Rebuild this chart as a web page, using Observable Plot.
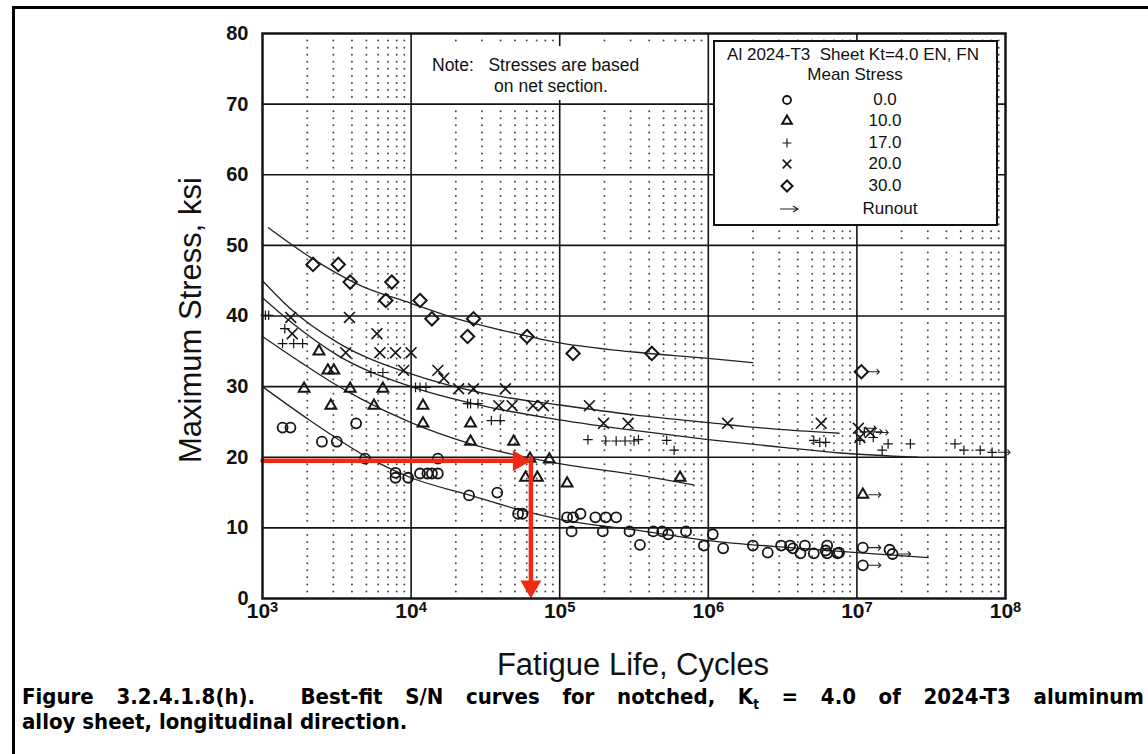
<!DOCTYPE html>
<html><head><meta charset="utf-8">
<script src="https://cdn.jsdelivr.net/npm/d3@7"></script>
<script src="https://cdn.jsdelivr.net/npm/@observablehq/plot@0.6"></script>
<style>
html,body{margin:0;padding:0;background:#fff;}
#wrap{position:relative;width:1148px;height:754px;overflow:hidden;background:#fff;font-family:"Liberation Sans",Arial,sans-serif;color:#111;}
#border{position:absolute;left:12px;top:6px;width:1300px;height:900px;border-left:3px solid #000;border-top:3px solid #000;box-sizing:border-box;}
#chart{position:absolute;left:0;top:0;}
#chart g[aria-label="y-axis tick label"] text{font-size:20px;font-weight:bold;font-family:"Liberation Sans",Arial,sans-serif;fill:#111;}
#chart g[aria-label="x-axis tick label"] text{font-size:21px;font-weight:bold;font-family:"Liberation Sans",Arial,sans-serif;fill:#111;}
.abs{position:absolute;white-space:nowrap;}
#ylab{left:191px;top:320px;transform:translate(-50%,-50%) rotate(-90deg);font-size:31px;}
#xlab{left:633px;top:665px;transform:translate(-50%,-50%);font-size:31px;}
.cap{font-family:"DejaVu Sans Condensed","DejaVu Sans",sans-serif;font-stretch:condensed;font-weight:bold;font-size:22px;line-height:25px;color:#000;left:22px;}
#cap1{top:684px;width:1122px;white-space:normal;text-align:justify;text-align-last:justify;}
#cap2{top:709px;}
#note{left:412px;top:46px;width:294px;height:54px;background:#fff;font-size:17.5px;}
#legend{left:713px;top:40px;width:285px;height:186px;background:#fff;border:2px solid #111;box-sizing:border-box;font-size:17px;}
.c{transform:translate(-50%,-50%);}
</style></head>
<body>
<div id="wrap">
  <div id="border"></div>
  <div id="chart"></div>
  <div class="abs" id="ylab">Maximum Stress, ksi</div>
  <div class="abs" id="xlab">Fatigue Life, Cycles</div>
  <div class="abs" id="note"></div>
  <div class="abs" id="legend"></div>
  <div class="abs cap" id="cap1">Figure 3.2.4.1.8(h).&nbsp; Best-fit S/N curves for notched, K<sub style="font-size:0.6em">t</sub> = 4.0 of 2024-T3 aluminum</div>
  <div class="abs cap" id="cap2">alloy sheet, longitudinal direction.</div>
</div>
<script>
// ---------- axis ticks ----------
const xTicks = [1e3, 1e4, 1e5, 1e6, 1e7, 1e8];
const yTicks = [0, 10, 20, 30, 40, 50, 60, 70, 80];
const majorX = [1e4, 1e5, 1e6, 1e7];
const majorY = [10, 20, 30, 40, 50, 60, 70];
const decades = [1e3, 1e4, 1e5, 1e6, 1e7];
const minorMult = [2, 3, 4, 5, 6, 7, 8, 9];

// ---------- data: [cycles, max stress ksi] ----------
// Mean stress 0.0 (circles)
const s00 = [[1365,24.2],[1542,24.2],[2512,22.2],[3162,22.2],[4266,24.8],[4898,19.8],[7852,17.8],[7852,17.1],[9550,17.1],
  [11482,17.7],[12882,17.7],[13804,17.7],[15136,17.7],[15136,19.8],[24547,14.6],[38019,15.0],[52481,12.0],[56234,12.0],
  [112202,11.5],[123027,11.5],[138038,12.0],[173780,11.5],[204174,11.5],[239883,11.5],
  [120226,9.5],[194984,9.5],[295121,9.5],[346737,7.6],[426580,9.5],[489779,9.5],[537032,9.1],[707946,9.5],[933254,7.5],
  [1071519,9.1],[1258925,7.1],[1995262,7.5],[2511886,6.5],[3090295,7.5],[3548134,7.5],[3715352,7.1],[4168694,6.4],
  [4466836,7.5],[5128614,6.4],[6309573,7.5],[6309573,6.4],[7413102,6.4],[6165950,6.8],[7585776,6.5],[16595869,6.9]];
const s00Runout = [[10964782,7.2],[10964782,4.7],[17378008,6.3]];
// Mean stress 10.0 (triangles)
const s10 = [[1905,29.7],[2399,35.0],[2754,32.3],[3020,32.3],[2884,27.3],[3890,29.7],[6457,29.7],[5623,27.3],
  [12023,27.3],[12023,24.8],[25119,24.8],[25119,22.2],[48978,22.2],[63096,19.8],[85114,19.7],[58884,17.1],[70795,17.1],
  [112202,16.3],[645654,17.1]];
const s10Runout = [[10964782,14.7]];
// Mean stress 17.0 (plus)
const s17 = [[1047,40.1],[1100,40.1],[1413,38.2],[1365,36.1],[1622,36.1],[1862,36.1],[5370,32.0],[6457,32.0],
  [10715,29.9],[11482,29.9],[12589,29.9],[23988,27.6],[25119,27.6],[28184,27.6],[34674,25.2],[39811,25.2],
  [154882,22.5],[204174,22.3],[239883,22.3],[275423,22.3],[316228,22.3],[338844,22.5],[524807,22.4],[588844,21.0],
  [5128614,22.4],[5623413,22.1],[6165950,22.1],[10471285,22.4],[12882496,22.8],[14791084,21.0],[16218101,21.9],
  [22908677,21.9],[45708819,21.9],[52480746,21.0],[67608298,21.0]];
const s17Runout = [[11220185,23.6],[81283052,20.7]];
// Mean stress 20.0 (x)
const s20 = [[1549,39.8],[3846,39.8],[1585,37.5],[5888,37.5],[3631,34.8],[6166,34.8],[7852,34.8],[10000,34.8],
  [8913,32.3],[15136,32.3],[16596,31.2],[20893,29.7],[26303,29.7],[43152,29.7],[38905,27.3],[47863,27.3],
  [66069,27.3],[77625,27.3],[158489,27.3],[197242,24.8],[288403,24.8],[1348963,24.8],[5754399,24.8],[10471285,22.8]];
const s20Runout = [[10232930,24.1],[12302688,23.5]];
// Mean stress 30.0 (diamonds)
const s30 = [[2188,47.3],[3236,47.3],[3890,44.8],[7413,44.8],[6761,42.2],[11482,42.2],[13804,39.6],[26303,39.6],
  [23988,37.1],[60256,37.1],[123027,34.7],[416869,34.7]];
const s30Runout = [[10715193,32.1]];

// Best-fit curves
const fit30 = [[1096,52.5],[2104,48.3],[4571,44.3],[10000,41.8],[21878,39.4],[46774,37.7],[1e5,36.2],[316228,34.9],[1e6,34.0],[1995262,33.4]];
const fit20 = [[1000,45.0],[1585,40.8],[3162,36.3],[1e4,31.8],[31623,29.0],[1e5,27.4],[316228,26.0],[1e6,24.9],[3162278,23.9],[7585776,23.4]];
const fit17 = [[1000,42.6],[1585,39.0],[3162,34.5],[1e4,30.0],[31623,27.2],[1e5,25.3],[316228,23.8],[1e6,22.5],[3162278,21.4],[7762471,20.6],[25703958,20.0]];
const fit10 = [[1000,37.1],[1820,33.4],[2884,30.7],[4571,28.3],[1e4,24.9],[25119,21.9],[1e5,19.1],[354813,17.4],[794328,16.1]];
const fit00 = [[1000,30.0],[2089,25.2],[4898,20.2],[1e4,17.1],[25119,14.6],[54954,12.5],[1e5,11.2],[346737,9.6],[1e6,8.2],[4168694,7.1],[1e7,6.5],[30199517,5.8]];

// Red read-off annotation
const readLife = [64000];
const readStress = [19.5];

// legend
const legendSeries = ["0.0", "10.0", "17.0", "20.0", "30.0"];
const legendSymbols = ["circle", "triangle", "plus", "times", "diamond2"];

// ---------- build ----------
const minorDots = [];
for (const d of decades) for (const k of minorMult) for (let s = 1; s < 80; s++) if (s % 10) minorDots.push([d * k, s]);

const X = d => d[0], Y = d => d[1];
const ink = "#151515";
const red = "#ee2a12";
const annoH = readLife.map((n, i) => ({x1: 1e3, x2: n, y: readStress[i]}));
const annoV = readLife.map((n, i) => ({x: n, y1: readStress[i], y2: 0}));
const runouts = [...s00Runout, ...s10Runout, ...s17Runout, ...s20Runout, ...s30Runout];

const chart = Plot.plot({
  width: 1148, height: 640,
  marginLeft: 262, marginRight: 143, marginTop: 33, marginBottom: 42,
  style: {background: "transparent", color: ink},
  x: {type: "log", domain: [1e3, 1e8], ticks: xTicks, tickFormat: d => String(Math.round(Math.log10(d))), tickSize: 0, tickPadding: 5, label: null},
  y: {domain: [0, 80], ticks: yTicks, tickSize: 0, tickPadding: 14, label: null},
  marks: [
    Plot.dot(minorDots, {x: X, y: Y, r: 1, fill: "#4a4a4a", stroke: null}),
    Plot.ruleX(majorX, {stroke: ink, strokeWidth: 1.6}),
    Plot.ruleY(majorY, {stroke: ink, strokeWidth: 1.6}),
    ...[fit30, fit20, fit17, fit10, fit00].map(f => Plot.line(f, {x: X, y: Y, curve: "monotone-x", stroke: "#222", strokeWidth: 1.3})),
    Plot.dot([...s00, ...s00Runout], {x: X, y: Y, symbol: "circle", r: 5, fill: "none", stroke: ink, strokeWidth: 1.8}),
    Plot.dot([...s10, ...s10Runout], {x: X, y: Y, symbol: "triangle", r: 4, fill: "none", stroke: ink, strokeWidth: 2}),
    Plot.dot([...s17, ...s17Runout], {x: X, y: Y, symbol: "plus", r: 3.2, fill: "none", stroke: ink, strokeWidth: 1.2}),
    Plot.dot([...s20, ...s20Runout], {x: X, y: Y, symbol: "times", r: 5, fill: "none", stroke: ink, strokeWidth: 1.6}),
    Plot.dot([...s30, ...s30Runout], {x: X, y: Y, symbol: "diamond2", r: 6, fill: "none", stroke: ink, strokeWidth: 2}),
    Plot.vector(runouts, {x: X, y: Y, rotate: 90, length: 12, anchor: "start", dx: 6, stroke: "#222", strokeWidth: 1.1, shape: "arrow"}),
    Plot.arrow(annoH, {x1: "x1", x2: "x2", y1: "y", y2: "y", headLength: 0, insetEnd: 9, stroke: red, strokeWidth: 4.5}),
    Plot.arrow(annoV, {x1: "x", x2: "x", y1: "y1", y2: "y2", headLength: 0, insetStart: -2.2, insetEnd: 9, stroke: red, strokeWidth: 4.5}),
    Plot.dot(annoH, {x: "x2", y: "y", symbol: "triangle2", r: 10, fill: red, stroke: null, rotate: 90, dx: -12}),
    Plot.dot(annoV, {x: "x", y: "y2", symbol: "triangle2", r: 10, fill: red, stroke: null, rotate: 180, dy: -12}),
    Plot.frame({stroke: ink, strokeWidth: 2.5})
  ]
});

// superscript exponents on the x tick labels
const NS = "http://www.w3.org/2000/svg";
chart.querySelectorAll('g[aria-label="x-axis tick label"] text').forEach(t => {
  const e = t.textContent;
  t.textContent = "";
  const a = document.createElementNS(NS, "tspan"); a.textContent = "10";
  const b = document.createElementNS(NS, "tspan"); b.textContent = e;
  b.setAttribute("dy", "-0.45em"); b.setAttribute("font-size", "0.7em");
  t.appendChild(a); t.appendChild(b);
});
document.getElementById("chart").appendChild(chart);

// note box
const note = document.getElementById("note");
note.innerHTML = '<div class="abs" style="left:20px;top:9px">Note:&nbsp;&nbsp; Stresses are based</div>' +
  '<div class="abs c" style="left:139px;top:40px">on net section.</div>';

// legend box
const leg = document.getElementById("legend");
const L = 713 + 2, T = 40 + 2;
let html = '<div class="abs c" style="left:' + (853 - L) + 'px;top:' + (55 - T) + 'px">Al 2024-T3&nbsp; Sheet Kt=4.0 EN, FN</div>' +
  '<div class="abs c" style="left:' + (855 - L) + 'px;top:' + (75 - T) + 'px">Mean Stress</div>';
const rowY = [100, 121, 143, 164, 186, 209];
const symMap = {circle: d3.symbolCircle, triangle: d3.symbolTriangle, plus: d3.symbolPlus, times: d3.symbolTimes, diamond2: d3.symbolDiamond2};
const symR = {circle: 4, triangle: 3.6, plus: 3, times: 4, diamond2: 5};
const symW = {circle: 1.8, triangle: 2, plus: 1.2, times: 1.6, diamond2: 2};
legendSeries.forEach((lab, i) => {
  const s = legendSymbols[i];
  const path = d3.symbol(symMap[s], Math.PI * symR[s] ** 2)();
  html += '<svg class="abs" width="20" height="20" style="left:' + (787 - 10 - L) + 'px;top:' + (rowY[i] - 10 - T) + 'px"><path transform="translate(10,10)" d="' + path + '" fill="none" stroke="#151515" stroke-width="' + symW[s] + '"/></svg>';
  html += '<div class="abs c" style="left:' + (885 - L) + 'px;top:' + (rowY[i] - T) + 'px">' + lab + '</div>';
});
html += '<svg class="abs" width="24" height="12" style="left:' + (778 - L) + 'px;top:' + (rowY[5] - 6 - T) + 'px"><path d="M2,6H20M15,3L20,6L15,9" fill="none" stroke="#222" stroke-width="1.1"/></svg>';
html += '<div class="abs c" style="left:' + (890 - L) + 'px;top:' + (rowY[5] - T) + 'px">Runout</div>';
leg.innerHTML = html;
</script>
</body></html>
